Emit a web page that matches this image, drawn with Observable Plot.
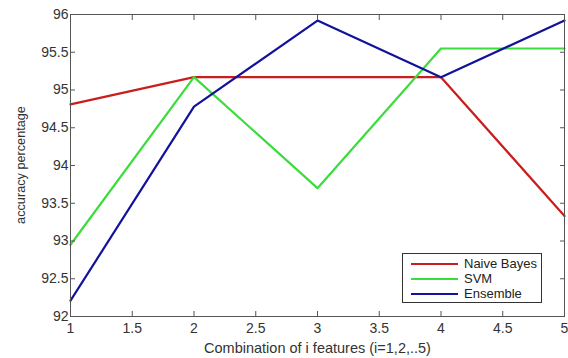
<!DOCTYPE html>
<html>
<head>
<meta charset="utf-8">
<script src="https://cdn.jsdelivr.net/npm/d3@7"></script>
<script src="https://cdn.jsdelivr.net/npm/@observablehq/plot@0.6"></script>
<style>
  html, body { margin: 0; padding: 0; background: #fff; }
  #wrap { position: relative; width: 568px; height: 358px; font-family: "Liberation Sans", Arial, sans-serif; }
  #ylabel { position: absolute; left: 21px; top: 165px; transform: translate(-50%, -50%) rotate(-90deg); white-space: nowrap; font-size: 12.7px; color: #333; line-height: 1; }
  #legend { position: absolute; left: 402px; top: 253px; width: 140px; height: 50px; border: 1px solid #333; background: #fff; box-sizing: border-box; font-size: 13px; color: #222; }
  .row { position: absolute; left: 8px; height: 15px; display: flex; align-items: center; }
  .sw { width: 47px; height: 0; border-top: 2.5px solid; margin-right: 6px; }
</style>
</head>
<body>
<div id="wrap"></div>
<script>
const features = [1, 2, 3, 4, 5];
const naiveBayes = [94.81, 95.17, 95.17, 95.17, 93.33];
const svm = [92.95, 95.17, 93.70, 95.55, 95.55];
const ensemble = [92.21, 94.78, 95.92, 95.17, 95.92];
const seriesNames = ["Naive Bayes", "SVM", "Ensemble"];
const seriesColors = ["#c81e1e", "#3bdc3b", "#12129a"];
const xTicks = [1, 1.5, 2, 2.5, 3, 3.5, 4, 4.5, 5];
const yTicks = [92, 92.5, 93, 93.5, 94, 94.5, 95, 95.5, 96];
const xLabel = "Combination of i features (i=1,2,..5)";
const yLabel = "accuracy percentage";

const seriesValues = [naiveBayes, svm, ensemble];
const data = seriesNames.flatMap((name, i) =>
  features.map((f, j) => ({series: name, x: f, y: seriesValues[i][j]})));

const fmt = d => String(d);

const chart = Plot.plot({
  width: 568,
  height: 358,
  marginLeft: 70,
  marginRight: 4,
  marginTop: 14,
  marginBottom: 42,
  style: {fontFamily: "Liberation Sans, Arial, sans-serif", fontSize: "14px", background: "#fff"},
  x: {domain: [1, 5]},
  y: {domain: [92, 96]},
  color: {domain: seriesNames, range: seriesColors},
  marks: [
    Plot.line(data, {x: "x", y: "y", z: "series", stroke: "series", strokeWidth: 2.2}),
    Plot.frame({stroke: "#555"}),
    Plot.axisX({anchor: "bottom", ticks: xTicks, tickFormat: fmt, tickSize: -5, tickPadding: 12, fontSize: 14, color: "#333", stroke: "#555", label: null}),
    Plot.text([xLabel], {frameAnchor: "bottom", dy: 36, fontSize: 14.5, fill: "#333"}),
    Plot.axisX({anchor: "top", ticks: xTicks, tickSize: -5, tickFormat: () => "", label: null, stroke: "#555"}),
    Plot.axisY({anchor: "left", ticks: yTicks, tickFormat: fmt, tickSize: -5, tickPadding: 7, fontSize: 14, color: "#333", stroke: "#555", label: null}),
    Plot.axisY({anchor: "right", ticks: yTicks, tickSize: -5, tickFormat: () => "", label: null, stroke: "#555"})
  ]
});

const wrap = document.getElementById("wrap");
wrap.appendChild(chart);

const yl = document.createElement("div");
yl.id = "ylabel";
yl.textContent = yLabel;
wrap.appendChild(yl);

const legend = document.createElement("div");
legend.id = "legend";
seriesNames.forEach((name, i) => {
  const row = document.createElement("div");
  row.className = "row";
  row.style.top = (2 + i * 15) + "px";
  const sw = document.createElement("div");
  sw.className = "sw";
  sw.style.borderColor = seriesColors[i];
  const t = document.createElement("span");
  t.textContent = name;
  row.appendChild(sw);
  row.appendChild(t);
  legend.appendChild(row);
});
wrap.appendChild(legend);
</script>
</body>
</html>
